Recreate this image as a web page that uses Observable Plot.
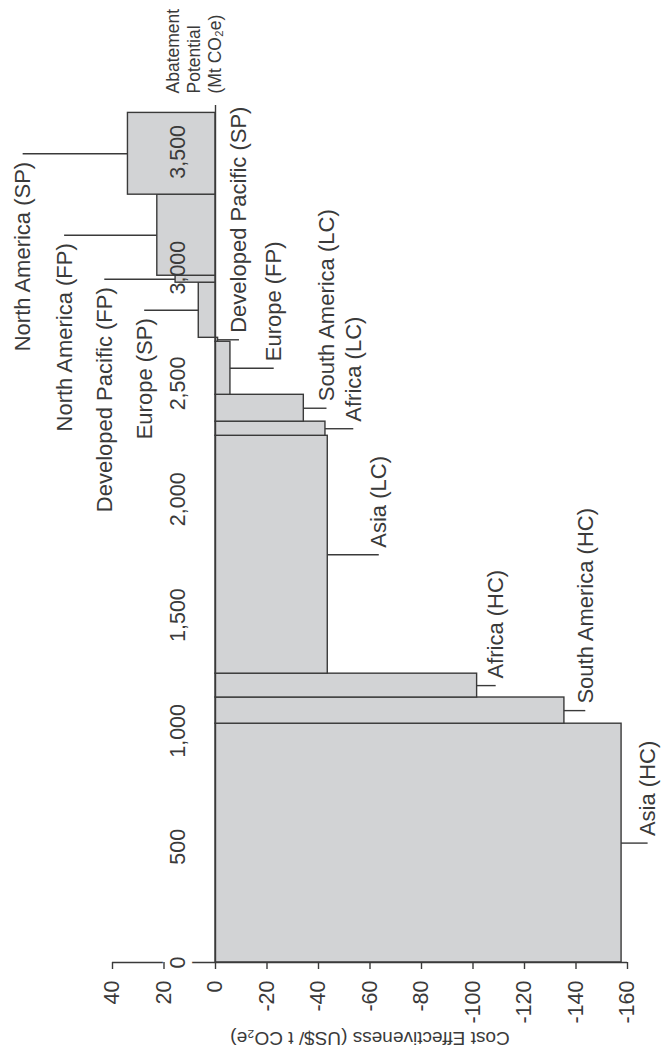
<!DOCTYPE html>
<html>
<head>
<meta charset="utf-8">
<script src="https://cdn.jsdelivr.net/npm/d3@7"></script>
<script src="https://cdn.jsdelivr.net/npm/@observablehq/plot@0.6"></script>
<style>
  html, body { margin: 0; padding: 0; background: #fff; }
  #chart svg { display: block; }
</style>
</head>
<body>
<div id="chart"></div>
<script>
// ---- data ----
const segments = [
  "Asia (HC)", "South America (HC)", "Africa (HC)", "Asia (LC)", "Africa (LC)",
  "South America (LC)", "Europe (FP)", "Developed Pacific (SP)", "Europe (SP)",
  "Developed Pacific (FP)", "North America (FP)", "North America (SP)"
];
// abatement potential of each segment (Mt CO2e)
const potential = [1031, 113, 103, 1027, 61, 116, 229, 17, 238, 30, 350, 353];
// cost effectiveness (US$/t CO2e)
const costEff = [-157.7, -135.5, -101.6, -43.6, -42.7, -34.3, -5.8, -1.0, 6.5, 15.5, 22.6, 34.0];

const costTicks = [40, 20, 0, -20, -40, -60, -80, -100, -120, -140, -160];
const potentialTicks = [0, 500, 1000, 1500, 2000, 2500, 3000, 3500];
const potentialTickLabels = ["0", "500", "1,000", "1,500", "2,000", "2,500", "3,000", "3,500"];

// layout: leader-line length for each label (in cost units)
const leaderLength = [10.3, 8.3, 7.4, 20, 11, 9, 17, 8.3, 21, 27.5, 36, 40.7];

// ---- derived table ----
let acc = 0;
const bars = segments.map((name, i) => {
  const start = acc;
  acc += potential[i];
  const c = costEff[i];
  const dir = c < 0 ? -1 : 1;
  return {
    name, start, end: acc, mid: (start + acc) / 2, cost: c,
    leaderEnd: c + dir * leaderLength[i]
  };
});
const neg = bars.filter(d => d.cost < 0);
const pos = bars.filter(d => d.cost >= 0);
const pTicks = potentialTicks.map((v, i) => ({v, label: potentialTickLabels[i]}));

const ink = "#3a3a3a";
const txt = "#3a3a3a";
const font = "'Liberation Sans', Arial, sans-serif";

const chart = Plot.plot({
  width: 661,
  height: 1057,
  marginLeft: 112,
  marginRight: 34,
  marginTop: 105,
  marginBottom: 95,
  x: {domain: [40, -160], axis: null},
  y: {domain: [0, 3700], axis: null},
  style: {fontFamily: font, background: "#fff", color: txt},
  marks: [
    // bars
    Plot.rect(bars, {x1: 0, x2: "cost", y1: "start", y2: "end",
      fill: "#d2d3d5", stroke: ink, strokeWidth: 1.4}),
    // abatement axis line (at zero cost)
    Plot.ruleX([0], {y1: 0, y2: 3700, stroke: ink, strokeWidth: 1.4}),
    // cost axis line
    Plot.ruleY([0], {x1: costTicks[0], x2: costTicks[costTicks.length - 1], stroke: ink, strokeWidth: 1.4}),
    // abatement tick label halo where it crosses the cost axis
    Plot.text(pTicks.filter(d => d.v === 0), {
      x: 0, y: "v", text: "label", dx: -37, rotate: -90,
      textAnchor: "middle", lineAnchor: "middle", fontSize: 21.5,
      fill: "#fff", stroke: "#fff", strokeWidth: 14
    }),
    // cost axis ticks + labels
    Plot.axisX({
      ticks: costTicks, tickSize: 7, tickPadding: 11, tickRotate: -90,
      tickFormat: d => String(d),
      fontSize: 21.5, label: null, stroke: ink, strokeWidth: 1.4, fill: txt
    }),
    // abatement tick labels
    Plot.text(pTicks, {
      x: 0, y: "v", text: "label", dx: -37, rotate: -90,
      textAnchor: "middle", lineAnchor: "middle", fontSize: 21.5, fill: txt
    }),
    // leader lines
    Plot.ruleY(bars, {y: "mid", x1: "cost", x2: "leaderEnd", stroke: ink, strokeWidth: 1.4}),
    // labels for negative-cost segments
    Plot.text(neg, {
      x: "leaderEnd", y: "mid", text: "name", rotate: -90, dy: -7,
      textAnchor: "start", lineAnchor: "middle", fontSize: 22, fill: txt
    }),
    // labels for positive-cost segments
    Plot.text(pos, {
      x: "leaderEnd", y: "mid", text: "name", rotate: -90, dy: 8,
      textAnchor: "end", lineAnchor: "middle", fontSize: 22, fill: txt
    }),
    // axis titles
    Plot.text(["Abatement\nPotential\n(Mt CO₂e)"], {
      x: 0, frameAnchor: "top", dx: -22, dy: -12, rotate: -90,
      textAnchor: "start", lineAnchor: "middle", lineHeight: 1.2,
      fontSize: 17.5, fill: txt
    }),
    Plot.text(["Cost Effectiveness (US$/ t CO₂e)"], {
      frameAnchor: "bottom", dy: 76, rotate: 180,
      textAnchor: "middle", lineAnchor: "middle", fontSize: 19, fill: txt
    })
  ]
});

document.getElementById("chart").appendChild(chart);
</script>
</body>
</html>
